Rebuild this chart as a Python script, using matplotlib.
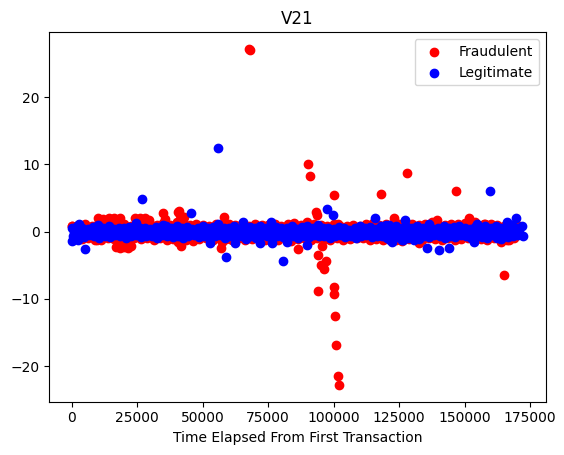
import matplotlib
matplotlib.use("Agg")
import matplotlib.pyplot as plt

# ---- Legitimate (blue) : main band, three rows ----
leg_top_x = [0, 2000, 4000, 6000, 8000, 10000, 12000, 14000, 16000, 18000,
             20000, 22000, 24000, 26000, 28000, 30000, 32000, 34000, 36000, 38000,
             40000, 42000, 44000, 46000, 48000, 50000, 52000, 54000, 56000, 58000,
             60000, 62000, 64000, 66000, 68000, 70000, 72000, 74000, 76000, 78000,
             80000, 82000, 84000, 86000, 88000, 90000, 92000, 94000, 96000, 98000,
             100000, 102000, 104000, 106000, 108000, 110000, 112000, 114000, 116000, 118000,
             120000, 122000, 124000, 126000, 128000, 130000, 132000, 134000, 136000, 138000,
             140000, 142000, 144000, 146000, 148000, 150000, 152000, 154000, 156000, 158000,
             160000, 162000, 164000, 166000, 168000, 170000, 172000]
leg_top_y = [0.5, 0.9, 0.6, 0.4, 0.7, 0.5, 0.6, 0.8, 0.4, 0.6,
             0.5, 0.7, 0.9, 0.5, 0.6, 0.4, 0.7, 0.5, 0.8, 0.6,
             0.9, 0.5, 0.7, 0.4, 0.6, 0.8, 0.5, 0.7, 1.1, 0.6,
             0.5, 0.8, 0.4, 0.6, 0.7, 0.5, 0.9, 0.6, 0.4, 0.7,
             0.5, 0.6, 0.8, 0.4, 0.7, 0.9, 0.6, 1.0, 0.5, 0.6,
             0.4, 0.7, 0.5, 0.3, 0.6, 0.8, 0.5, 0.7, 0.4, 0.9,
             1.0, 0.6, 0.8, 0.5, 0.7, 0.6, 0.9, 0.5, 0.7, 0.4,
             0.6, 0.8, 0.5, 0.7, 0.9, 0.6, 0.4, 0.7, 0.5, 0.8,
             0.6, 0.9, 0.5, 0.7, 1.0, 0.6, 0.8]

leg_mid_x = [1000, 3000, 5000, 7000, 9000, 11000, 13000, 15000, 17000, 19000,
             21000, 23000, 25000, 27000, 29000, 31000, 33000, 35000, 37000, 39000,
             41000, 43000, 45000, 47000, 49000, 51000, 53000, 55000, 57000, 59000,
             61000, 63000, 65000, 67000, 69000, 71000, 73000, 75000, 77000, 79000,
             81000, 83000, 85000, 87000, 89000, 91000, 93000, 95000, 97000, 99000,
             101000, 103000, 105000, 107000, 109000, 111000, 113000, 115000, 117000, 119000,
             121000, 123000, 125000, 127000, 129000, 131000, 133000, 135000, 137000, 139000,
             141000, 143000, 145000, 147000, 149000, 151000, 153000, 155000, 157000, 159000,
             161000, 163000, 165000, 167000, 169000, 171000]
leg_mid_y = [0.0, -0.2, 0.1, 0.2, -0.1, 0.0, 0.1, -0.2, 0.2, 0.0,
             -0.1, 0.1, 0.0, 0.2, -0.2, 0.1, 0.0, -0.1, 0.2, 0.1,
             0.0, -0.2, 0.1, 0.0, 0.2, -0.1, 0.1, 0.0, -0.2, 0.2,
             0.1, 0.0, -0.1, 0.2, 0.0, 0.1, -0.2, 0.0, 0.1, -0.1,
             0.2, 0.0, 0.1, -0.1, 0.0, 0.2, -0.2, 0.1, 0.0, 0.1,
             -0.1, 0.2, 0.0, 0.1, -0.2, 0.0, 0.1, 0.2, -0.1, 0.0,
             0.1, -0.2, 0.2, 0.0, 0.1, -0.1, 0.0, 0.2, 0.1, -0.2,
             0.0, 0.1, -0.1, 0.2, 0.0, 0.1, -0.2, 0.0, 0.2, 0.1,
             -0.1, 0.0, 0.2, 0.1, 0.0, -0.1]

leg_bot_x = [500, 2500, 4500, 6500, 8500, 10500, 12500, 14500, 16500, 18500,
             20500, 22500, 24500, 26500, 28500, 30500, 32500, 34500, 36500, 38500,
             40500, 42500, 44500, 46500, 48500, 50500, 52500, 54500, 56500, 58500,
             60500, 62500, 64500, 66500, 68500, 70500, 72500, 74500, 76500, 78500,
             80500, 82500, 84500, 86500, 88500, 90500, 92500, 94500, 96500, 98500,
             100500, 102500, 104500, 106500, 108500, 110500, 112500, 114500, 116500, 118500,
             120500, 122500, 124500, 126500, 128500, 130500, 132500, 134500, 136500, 138500,
             140500, 142500, 144500, 146500, 148500, 150500, 152500, 154500, 156500, 158500,
             160500, 162500, 164500, 166500, 168500, 170500, 172500]
leg_bot_y = [-0.6, -1.3, -0.8, -0.5, -0.7, -0.9, -0.6, -0.8, -0.5, -0.7,
             -0.9, -0.6, -0.5, -0.8, -0.7, -0.6, -0.9, -0.5, -0.7, -0.8,
             -0.6, -0.9, -0.7, -0.5, -0.8, -0.6, -1.0, -0.7, -0.5, -0.9,
             -0.6, -0.8, -0.7, -1.1, -0.6, -0.9, -0.5, -0.7, -1.0, -0.6,
             -0.8, -0.5, -0.7, -0.9, -0.6, -0.8, -0.5, -0.7, -0.6, -0.9,
             -0.7, -0.5, -0.8, -0.6, -0.9, -0.7, -0.5, -0.8, -0.6, -0.7,
             -1.0, -0.6, -0.8, -1.2, -0.9, -0.7, -1.1, -0.6, -0.8, -0.5,
             -0.7, -0.9, -0.6, -0.8, -0.5, -0.7, -0.9, -0.6, -0.8, -0.7,
             -0.5, -0.9, -0.6, -0.8, -0.7, -0.5, -0.6]

# ---- Legitimate (blue) : scattered points off the band ----
leg_out_x = [26600, 45500, 55700, 97300, 99800, 159600, 80700, 58900, 5000,
             135700, 140200, 144000, 2900, 9900, 24600, 34800, 65400, 76000,
             115900, 121000, 127400, 136300, 154900, 166400, 169500, 200, 52700,
             62200, 71800, 76300, 82100, 89700, 121600, 126000, 130600, 153600,
             158700, 163800, 122300]
leg_out_y = [4.8, 2.7, 12.4, 3.3, 2.45, 6.1, -4.4, -3.8, -2.65,
             -2.4, -2.75, -2.5, 1.2, 1.0, 1.3, 1.0, 1.45, 1.45,
             2.0, 1.0, 1.7, 1.2, 1.2, 1.45, 2.0, -1.4, -1.7,
             -1.75, -1.7, -1.75, -1.5, -2.0, -1.3, -1.3, -1.3, -1.5,
             -1.0, -1.1, -1.5]

# ---- Fraudulent (red) : band rows ----
fr_top_x = [0, 2500, 5000, 7500, 10000, 12500, 15000, 17500, 20000, 22500,
            25000, 27500, 30000, 32500, 35000, 37500, 40000, 42500, 45000, 47500,
            50000, 52500, 55000, 57500, 60000, 62500, 65000, 67500, 70000, 72500,
            75000, 77500, 80000, 82500, 85000, 87500, 90000, 92500, 95000, 97500,
            100000, 102500, 105000, 107500, 110000, 112500, 115000, 117500, 120000, 122500,
            125000, 127500, 130000, 132500, 135000, 137500, 140000, 142500, 145000, 147500,
            150000, 152500, 155000, 157500, 160000, 162500, 165000, 167500, 170000]
fr_top_y = [0.8, 1.0, 1.1, 0.9, 1.1, 1.2, 1.0, 1.2, 1.1, 0.9,
            1.0, 1.2, 1.1, 1.0, 1.3, 1.0, 1.5, 1.2, 1.0, 1.1,
            1.0, 0.9, 1.2, 1.0, 1.1, 1.0, 1.2, 0.9, 1.1, 1.0,
            1.0, 1.2, 0.9, 1.1, 1.3, 1.0, 1.4, 1.2, 1.0, 0.9,
            1.1, 0.8, 0.9, 1.0, 0.9, 1.1, 1.3, 1.0, 1.2, 1.0,
            1.1, 1.0, 1.2, 1.0, 1.1, 1.4, 1.0, 1.0, 1.2, 1.1,
            1.3, 1.0, 1.0, 1.1, 1.2, 1.0, 0.9, 1.0, 1.0]

fr_bot_x = [1250, 3750, 6250, 8750, 11250, 13750, 16250, 18750, 21250, 23750,
            26250, 28750, 31250, 33750, 36250, 38750, 41250, 43750, 46250, 48750,
            51250, 53750, 56250, 58750, 61250, 63750, 66250, 68750, 71250, 73750,
            76250, 78750, 81250, 83750, 86250, 88750, 91250, 93750, 96250, 98750,
            101250, 103750, 106250, 108750, 111250, 113750, 116250, 118750, 121250, 123750,
            126250, 128750, 131250, 133750, 136250, 138750, 141250, 143750, 146250, 148750,
            151250, 153750, 156250, 158750, 161250, 163750, 166250, 168750]
fr_bot_y = [-0.9, -1.1, -1.0, -1.2, -1.3, -1.0, -1.1, -1.4, -1.2, -1.0,
            -1.1, -0.9, -1.2, -1.0, -1.3, -1.1, -1.0, -1.2, -1.4, -1.1,
            -1.0, -1.2, -0.9, -1.1, -1.3, -1.0, -1.2, -1.1, -1.0, -1.3,
            -1.1, -1.2, -1.0, -1.4, -1.1, -0.9, -1.2, -1.0, -1.1, -1.3,
            -1.0, -1.2, -1.1, -0.9, -1.0, -1.2, -1.1, -1.3, -1.0, -1.2,
            -1.4, -1.1, -1.0, -1.2, -0.9, -1.1, -1.3, -1.0, -1.2, -1.1,
            -1.0, -1.2, -1.1, -1.3, -1.0, -1.5, -1.2, -1.0]

# ---- Fraudulent (red) : outliers and clusters ----
fr_out_x = [67500, 68100, 90200, 91000, 100200, 118200, 128200, 146600,
            93200, 93500, 86200, 94200, 97100, 95200, 96400, 94200, 100000,
            100000, 100700, 101000, 101700, 102100, 165000, 95700, 101800,
            56900, 57500, 58000,
            17000, 18500, 20000, 21500, 22500, 19000,
            41600, 40500,
            10000, 12000, 14000, 16000, 18500, 11000, 15000,
            24000, 26000, 28000, 29500,
            34800, 35500,
            40400, 41200, 42300, 41000, 43000,
            8000, 9500, 11000,
            123000, 139500, 151600, 132500, 167000, 0, 154000, 158000]
fr_out_y = [27.15, 27.0, 10.0, 8.25, 5.4, 5.6, 8.7, 6.1,
            2.9, 2.5, -2.6, -3.5, -4.3, -5.0, -5.6, -8.9, -8.2,
            -9.3, -12.6, -16.9, -21.5, -22.8, -6.5, -2.1, 1.2,
            -2.4, -1.6, 2.2,
            -2.3, -2.5, -2.3, -2.4, -2.2, -1.5,
            -2.2, -1.5,
            2.0, 1.9, 2.1, 2.0, 2.1, 1.6, 1.6,
            2.0, 2.1, 2.0, 1.8,
            2.7, 1.9,
            2.9, 2.4, 1.9, 3.1, 2.2,
            -0.8, -1.3, -1.0,
            2.0, 1.7, 2.0, -1.75, -1.3, 0.8, 1.5, 1.2]

fraud_x = fr_top_x + fr_bot_x + fr_out_x
fraud_y = fr_top_y + fr_bot_y + fr_out_y
legit_x = leg_top_x + leg_mid_x + leg_bot_x + leg_out_x
legit_y = leg_top_y + leg_mid_y + leg_bot_y + leg_out_y

fig = plt.figure(figsize=(5.64, 4.55), dpi=100)
ax = fig.add_axes([49.3 / 564, 1 - 401.7 / 455, (546 - 49.3) / 564, (401.7 - 32.3) / 455])
ax.scatter(fraud_x, fraud_y, color="red", label="Fraudulent")
ax.scatter(legit_x, legit_y, color="blue", label="Legitimate")
ax.set_title("V21")
ax.set_xlabel("Time Elapsed From First Transaction")
ax.legend(loc="upper right")
fig.savefig("out.png", dpi=100)
